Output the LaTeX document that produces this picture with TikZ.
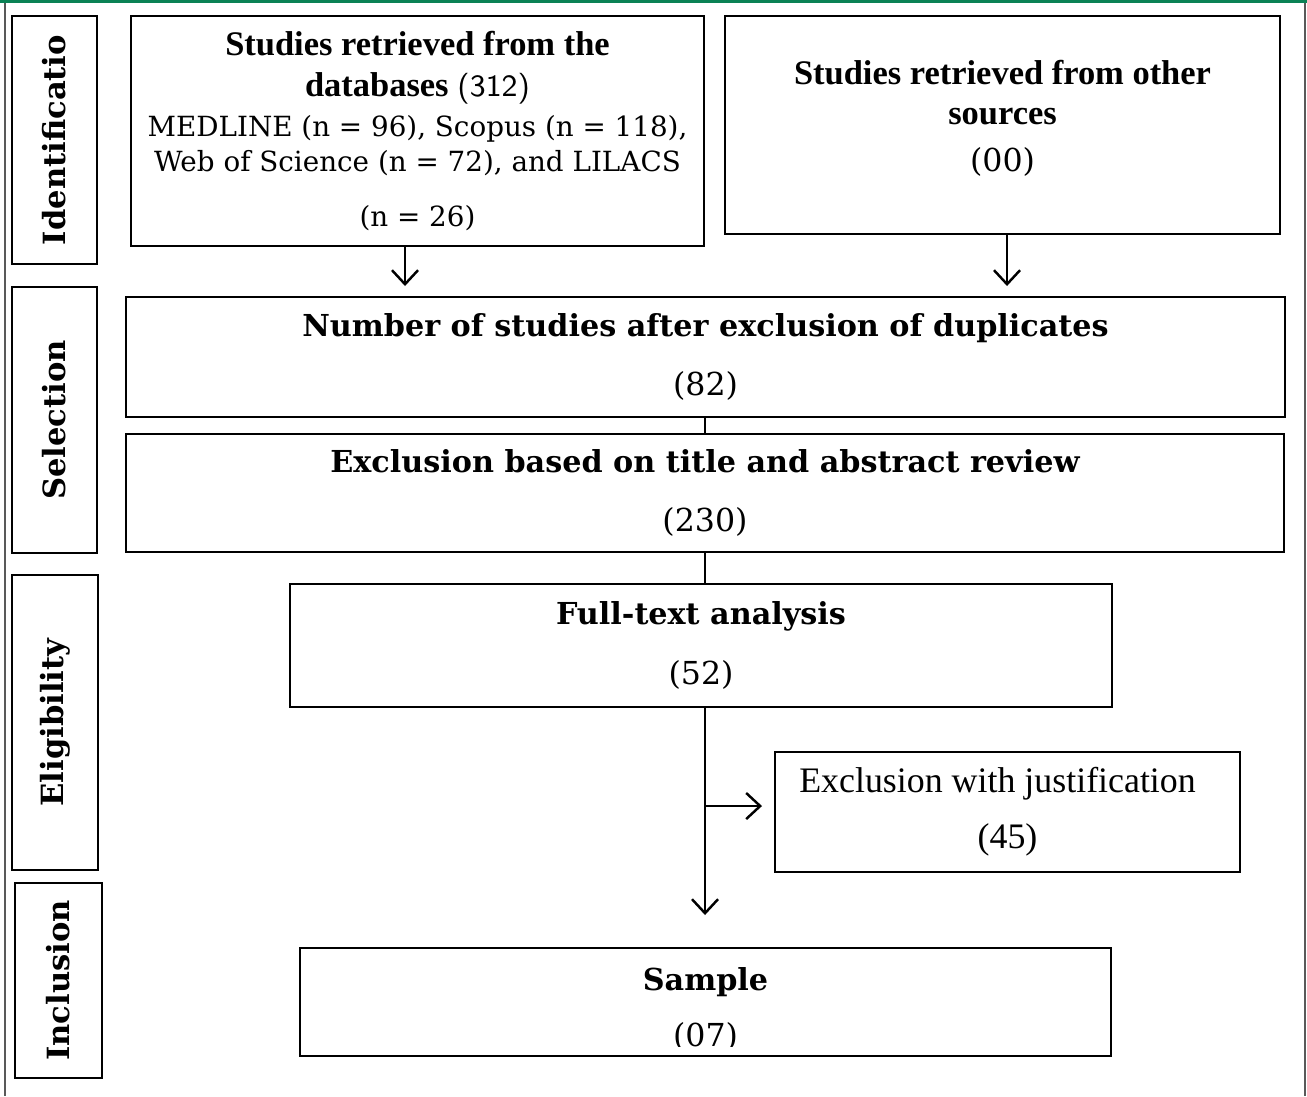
\documentclass[tikz,border=0pt]{standalone}
\usepackage{fontspec}
\setmainfont{Liberation Serif}
\newfontfamily\geofont{DejaVu Serif}
\usepackage{tikz}
\usetikzlibrary{arrows.meta}

\definecolor{framegreen}{RGB}{10,130,85}
\newdimen\pxu \pxu=0.01cm
\newcommand{\headfont}{\geofont\bfseries\fontsize{8.6}{10}\selectfont}
\newcommand{\numfont}{\geofont\fontsize{9}{11}\selectfont}
\newcommand{\timesbold}{\rmfamily\bfseries\fontsize{9.8}{11.3}\selectfont}
\newcommand{\basefont}{\geofont\mdseries\fontsize{7.9}{10}\selectfont}

\begin{document}
\begin{tikzpicture}[
  x=0.01cm, y=-0.01cm,
  box/.style={draw, line width=0.8pt, inner sep=0pt, align=center},
  phase/.style={box, rotate=90, font=\geofont\bfseries\fontsize{8.7}{10}\selectfont},
  arr/.style={-{Straight Barb[length=1.4mm, width=2.6mm]}, line width=0.7pt},
  link/.style={line width=0.7pt},
]
% page and frame
\useasboundingbox (0,0) rectangle (1307,1096);
\fill[framegreen] (0,0) rectangle (1307,3);
\draw[gray!70!black, line width=0.4pt] (5,3) -- (5,1096);
\draw[gray!70!black, line width=0.4pt] (1305,3) -- (1305,1096);

% phases
\node[phase, minimum width=248\pxu, minimum height=85\pxu] (ident) at (54.5,140) {Identificatio};
\node[phase, minimum width=266\pxu, minimum height=85\pxu] (select) at (54.5,420) {Selection};
\node[phase, minimum width=295\pxu, minimum height=86\pxu] (elig) at (55,722.5) {Eligibility};
\node[phase, minimum width=195\pxu, minimum height=87\pxu] (incl) at (58.5,980.5) {Inclusion};

% identification
\node[box, font=\basefont, minimum width=573\pxu, minimum height=230\pxu] (db) at (417.5,131)
  {{\timesbold Studies retrieved from the}\\[1.6pt]
   {\timesbold databases} {\sffamily\fontsize{8.8}{11}\selectfont(312)}\\[1.4pt]
   MEDLINE (n = 96), Scopus (n = 118),\\
   Web of Science (n = 72), and LILACS\\[5.6pt]
   (n = 26)};
\node[box, font=\timesbold, minimum width=555\pxu, minimum height=218\pxu] (other) at (1002.5,125)
  {Studies retrieved from other\\
   sources\\[2pt]
   {\numfont\mdseries (00)}\\[-6pt]
   \mbox{}};

% selection
\node[box, minimum width=1159\pxu, minimum height=120\pxu] (dedup) at (705.5,357)
  {{\headfont Number of studies after exclusion of duplicates}\\[5pt]
   {\numfont (82)}};
\node[box, minimum width=1158\pxu, minimum height=118\pxu] (screen) at (705,493)
  {{\headfont Exclusion based on title and abstract review}\\[5pt]
   {\numfont (230)}};

% eligibility
\node[box, minimum width=822\pxu, minimum height=123\pxu] (fulltext) at (701,645.5)
  {{\headfont Full-text analysis}\\[5pt]
   {\numfont (52)}};
\node[box, minimum width=465\pxu, minimum height=120\pxu] (excl) at (1007.5,812)
  {{\fontsize{10.2}{12}\selectfont Exclusion with justification\hspace*{20\pxu}}\\[4pt]
   {\fontsize{10.2}{12}\selectfont (45)}};

% inclusion
\node[box, minimum width=811\pxu, minimum height=108\pxu] (sample) at (705.5,1002) {};
\begin{scope}
  \clip (300,948) rectangle (1111,1046);
  \node[font=\headfont, anchor=base] (sampletitle) at (705.5,990) {Sample};
  \node[font=\numfont, anchor=base] (samplenum) at (705.5,1046) {(07)};
\end{scope}

% connectors
\coordinate (dbtip) at (405,286);
\coordinate (othertip) at (1007,286);
\coordinate (sampletip) at (705,915);
\coordinate (branch) at (705,806);
\coordinate (excltip) at (762,806);

\draw[arr] (db.south -| dbtip) -- (dbtip);
\draw[arr] (other.south -| othertip) -- (othertip);
\draw[link] (dedup.south -| sampletip) -- (screen.north -| sampletip);
\draw[link] (screen.south -| sampletip) -- (fulltext.north -| sampletip);
\draw[arr] (fulltext.south -| sampletip) -- (sampletip);
\draw[arr] (branch) -- (excltip);
\end{tikzpicture}
\end{document}
